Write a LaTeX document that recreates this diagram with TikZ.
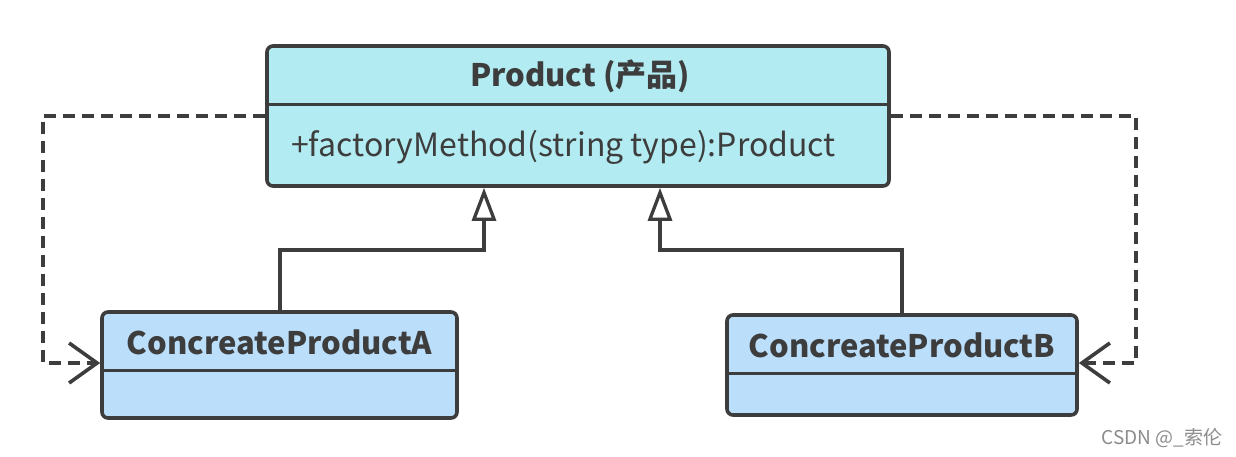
\documentclass[tikz,border=0pt]{standalone}
\usepackage{fontspec}
\setmainfont{Noto Sans CJK SC}
\usetikzlibrary{arrows.meta}
\definecolor{edge}{HTML}{3D3D3D}
\definecolor{pfill}{HTML}{B2EBF2}
\definecolor{cfill}{HTML}{BBDEFB}
\begin{document}
\begin{tikzpicture}[x=1pt,y=-1pt,
  classbox/.style={draw=edge, line width=3.6pt, rounded corners=6pt, inner sep=0pt},
  divider/.style={draw=edge, line width=3pt},
  gen/.style={draw=edge, line width=3.3pt, -{Triangle[open,length=33pt,width=24pt,fill=white]}},
  dep/.style={draw=edge, line width=3.6pt, dash pattern=on 12pt off 7pt, -{Straight Barb[length=28pt,width=40pt]}},
  titletext/.style={font=\bfseries\fontsize{31}{36}\selectfont, text=edge, inner sep=0pt},
  membertext/.style={font=\fontsize{32}{38}\selectfont, text=edge, inner sep=0pt},
  marktext/.style={font=\fontsize{19}{22}\selectfont, text=black!45, inner sep=0pt}]
\useasboundingbox (0,0) rectangle (1236,456);
\fill[white] (0,0) rectangle (1236,456);
% class boxes
\node[classbox, fill=pfill, minimum width=622pt, minimum height=140pt] (P) at (578,116) {};
\node[classbox, fill=cfill, minimum width=355pt, minimum height=106pt] (A) at (279.5,365) {};
\node[classbox, fill=cfill, minimum width=350pt, minimum height=100pt] (B) at (902,365) {};
% dividers
\coordinate (pdiv) at (0,104);
\coordinate (adiv) at (0,370);
\coordinate (bdiv) at (0,373);
\draw[divider] (P.west |- pdiv) -- (P.east |- pdiv);
\draw[divider] (A.west |- adiv) -- (A.east |- adiv);
\draw[divider] (B.west |- bdiv) -- (B.east |- bdiv);
% texts
\node[titletext] (pt) at (580,76) {Product (产品)};
\node[membertext, anchor=west] (pm) at (291,147) {+factoryMethod(string type):Product};
\node[titletext] (at) at (279.5,342) {ConcreateProductA};
\node[titletext] (bt) at (902,345) {ConcreateProductB};
% generalization
\coordinate (ga1) at (280,250);
\coordinate (ga2) at (484,250);
\coordinate (gb1) at (902,250);
\coordinate (gb2) at (660,250);
\draw[gen] (A.north -| ga1) -- (ga1) -- (ga2) -- (P.south -| ga2);
\draw[gen] (B.north -| gb1) -- (gb1) -- (gb2) -- (P.south -| gb2);
% dependencies
\coordinate (dl1) at (43,116);
\coordinate (dl2) at (43,363);
\coordinate (dr1) at (1136,116);
\coordinate (dr2) at (1136,363);
\draw[dep] (P.west |- dl1) -- (dl1) -- (dl2) -- (A.west |- dl2);
\draw[dep] (P.east |- dr1) -- (dr1) -- (dr2) -- (B.east |- dr2);
% watermark
\node[marktext] (wm) at (1162,438) {CSDN @\_索伦};
\end{tikzpicture}
\end{document}
